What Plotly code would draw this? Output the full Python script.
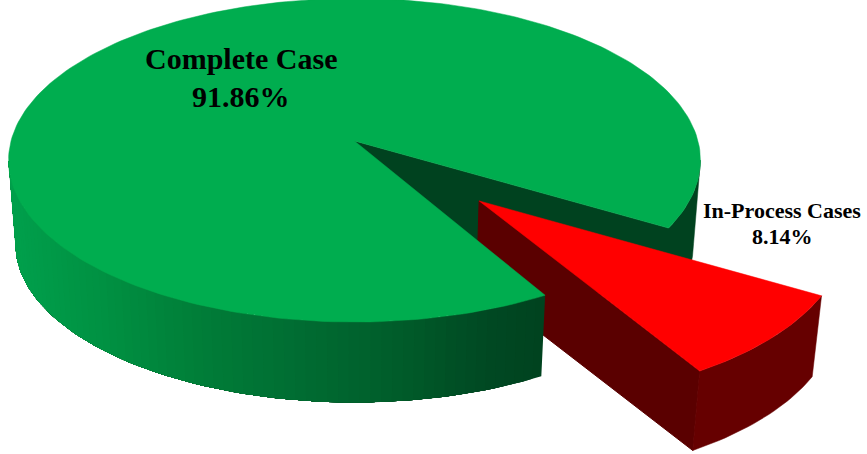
import math
import plotly.graph_objects as go

# ---- data ----
labels = ["Complete Case", "In-Process Cases"]
values = [91.86, 8.14]
slice_colors = ["#00AD4F", "#FF0000"]
label_sizes = [30, 22]
label_x = [240.5, 782]
label_y_name = [58, 210.5]
label_y_value = [96, 236.5]

# ---- pie geometry (plane -> picture) ----
CX, CY = 354.5, 141
A, B, P = 343.5, 159.5, -0.119
DEPTH, SHRINK = 84, 0.98
EXPLODE = 0.5
RED_SCALE = 1.01
MID_ANGLE = 45.5  # gap direction, clockwise from +X
RED_ANGLE = 45.0
RED_DIR = 46.0
RIGHT_TANGENT, LEFT_TANGENT = 6.8, 173.2

sweep = values[1] / sum(values) * 360
a0, a1 = MID_ANGLE - sweep / 2, MID_ANGLE + sweep / 2
r0, r1 = RED_ANGLE - sweep / 2, RED_ANGLE + sweep / 2


def proj(X, Y, low=False):
    w = 1 + P * Y
    u, v = A * X / w, B * Y / w
    if low:
        return CX + SHRINK * u, CY + SHRINK * v + DEPTH
    return CX + u, CY + v


def pol(deg, ox=0.0, oy=0.0, r=1.0):
    t = math.radians(deg)
    return ox + r * math.cos(t), oy + r * math.sin(t)


def arange(s, e, n):
    return [s + (e - s) * i / n for i in range(n + 1)]


GRAD = [(8, (0, 160, 76)), (100, (0, 145, 66)), (200, (0, 125, 56)), (300, (0, 108, 50)),
        (400, (0, 92, 42)), (480, (0, 74, 35)), (545, (0, 66, 31)), (700, (0, 66, 31))]


def grad(x):
    for (x0, c0), (x1, c1) in zip(GRAD, GRAD[1:]):
        if x <= x1:
            f = max(0.0, (x - x0) / (x1 - x0))
            return "rgb(%d,%d,%d)" % tuple(round(p + (q - p) * f) for p, q in zip(c0, c1))
    return "rgb(0,66,31)"


fig = go.Figure()


def poly(pts, color, lw=0.5):
    xs = [p[0] for p in pts] + [pts[0][0]]
    ys = [p[1] for p in pts] + [pts[0][1]]
    fig.add_trace(go.Scatter(x=xs, y=ys, mode="lines", fill="toself", fillcolor=color,
                             line=dict(color=color, width=lw), hoverinfo="skip", showlegend=False))


def grad_wall(s, e, n):
    # painted from the far end, each band running on under the next: no seams
    angs = arange(s, e, n)
    for p, q in zip(angs, angs[1:]):
        seg = [t for t in angs if t >= p]
        top = [proj(*pol(t)) for t in seg]
        low = [proj(*pol(t), True) for t in reversed(seg)]
        poly(top + low, grad(proj(*pol((p + q) / 2))[0]), 0)


# back of the large slice: cut face and outer wall as one shape
back = arange(a0, RIGHT_TANGENT, 16)
poly([proj(0, 0)] + [proj(*pol(t)) for t in back]
     + [proj(*pol(t), True) for t in reversed(back)] + [proj(0, 0, True)], "rgb(0,66,31)")

# exploded small slice
ox, oy = pol(RED_DIR, r=EXPLODE)
poly([proj(ox, oy), proj(*pol(r1, ox, oy, RED_SCALE)), proj(*pol(r1, ox, oy, RED_SCALE), True), proj(ox, oy, True)],
     "#5A0000", 1)
arc = arange(r0, r1, 24)
poly([proj(*pol(t, ox, oy, RED_SCALE)) for t in arc]
     + [proj(*pol(t, ox, oy, RED_SCALE), True) for t in reversed(arc)], "#660000", 0.5)
poly([proj(ox, oy)] + [proj(*pol(t, ox, oy, RED_SCALE)) for t in arange(r0, r1, 30)], slice_colors[1])

# front of the large slice, then its top
grad_wall(a1, LEFT_TANGENT, 70)
poly([proj(0, 0)] + [proj(*pol(t)) for t in arange(a1, a0 + 360, 240)], slice_colors[0])

annotations = []
for name, val, size, lx, y1, y2 in zip(labels, values, label_sizes, label_x, label_y_name, label_y_value):
    for text, ly in ((name, y1), (f"{val:.2f}%", y2)):
        annotations.append(dict(x=lx, y=ly, xref="x", yref="y", text=f"<b>{text}</b>",
                                showarrow=False, align="center",
                                font=dict(family="Liberation Serif", size=size, color="black")))

fig.update_layout(width=867, height=454, margin=dict(l=0, r=0, t=0, b=0), showlegend=False,
                  paper_bgcolor="white", plot_bgcolor="white", annotations=annotations,
                  xaxis=dict(range=[0, 867], visible=False, fixedrange=True),
                  yaxis=dict(range=[454, 0], visible=False, fixedrange=True))
fig.write_html("out.html", config={"displayModeBar": False, "responsive": False},
               post_script="document.body.style.margin='0';")
